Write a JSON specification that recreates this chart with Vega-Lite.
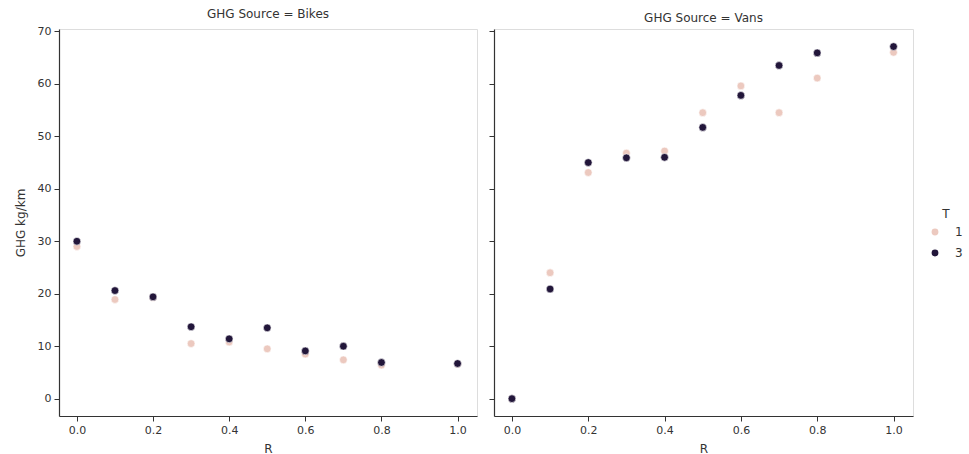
{
  "$schema": "https://vega.github.io/schema/vega-lite/v6.json",
  "padding": {"left": 13, "top": 7, "right": 5, "bottom": 5},
  "background": "white",
  "data": {"values": [
    {"source": "Bikes", "R": 0.0, "T": 1, "GHG": 29.0},
    {"source": "Bikes", "R": 0.1, "T": 1, "GHG": 18.9},
    {"source": "Bikes", "R": 0.2, "T": 1, "GHG": 19.3},
    {"source": "Bikes", "R": 0.3, "T": 1, "GHG": 10.5},
    {"source": "Bikes", "R": 0.4, "T": 1, "GHG": 10.8},
    {"source": "Bikes", "R": 0.5, "T": 1, "GHG": 9.5},
    {"source": "Bikes", "R": 0.6, "T": 1, "GHG": 8.5},
    {"source": "Bikes", "R": 0.7, "T": 1, "GHG": 7.4},
    {"source": "Bikes", "R": 0.8, "T": 1, "GHG": 6.4},
    {"source": "Bikes", "R": 1.0, "T": 1, "GHG": 6.6},
    {"source": "Bikes", "R": 0.0, "T": 3, "GHG": 30.0},
    {"source": "Bikes", "R": 0.1, "T": 3, "GHG": 20.6},
    {"source": "Bikes", "R": 0.2, "T": 3, "GHG": 19.4},
    {"source": "Bikes", "R": 0.3, "T": 3, "GHG": 13.7},
    {"source": "Bikes", "R": 0.4, "T": 3, "GHG": 11.4},
    {"source": "Bikes", "R": 0.5, "T": 3, "GHG": 13.5},
    {"source": "Bikes", "R": 0.6, "T": 3, "GHG": 9.1},
    {"source": "Bikes", "R": 0.7, "T": 3, "GHG": 10.0},
    {"source": "Bikes", "R": 0.8, "T": 3, "GHG": 6.9},
    {"source": "Bikes", "R": 1.0, "T": 3, "GHG": 6.7},
    {"source": "Vans", "R": 0.0, "T": 1, "GHG": 0.0},
    {"source": "Vans", "R": 0.1, "T": 1, "GHG": 24.0},
    {"source": "Vans", "R": 0.2, "T": 1, "GHG": 43.1},
    {"source": "Vans", "R": 0.3, "T": 1, "GHG": 46.8},
    {"source": "Vans", "R": 0.4, "T": 1, "GHG": 47.2},
    {"source": "Vans", "R": 0.5, "T": 1, "GHG": 54.5},
    {"source": "Vans", "R": 0.6, "T": 1, "GHG": 59.6},
    {"source": "Vans", "R": 0.7, "T": 1, "GHG": 54.5},
    {"source": "Vans", "R": 0.8, "T": 1, "GHG": 61.1},
    {"source": "Vans", "R": 1.0, "T": 1, "GHG": 66.0},
    {"source": "Vans", "R": 0.0, "T": 3, "GHG": 0.0},
    {"source": "Vans", "R": 0.1, "T": 3, "GHG": 20.9},
    {"source": "Vans", "R": 0.2, "T": 3, "GHG": 45.0},
    {"source": "Vans", "R": 0.3, "T": 3, "GHG": 45.9},
    {"source": "Vans", "R": 0.4, "T": 3, "GHG": 46.0},
    {"source": "Vans", "R": 0.5, "T": 3, "GHG": 51.7},
    {"source": "Vans", "R": 0.6, "T": 3, "GHG": 57.8},
    {"source": "Vans", "R": 0.7, "T": 3, "GHG": 63.5},
    {"source": "Vans", "R": 0.8, "T": 3, "GHG": 65.9},
    {"source": "Vans", "R": 1.0, "T": 3, "GHG": 67.1}
  ]},
  "spacing": 10,
  "hconcat": [
    {
      "width": 418,
      "height": 387,
      "title": {"text": "GHG Source = Bikes"},
      "transform": [{"filter": "datum.source === 'Bikes'"}],
      "mark": {"type": "point", "filled": true, "size": 60, "stroke": "white", "strokeWidth": 0.6, "opacity": 1},
      "encoding": {
        "x": {"field": "R", "type": "quantitative", "scale": {"domain": [-0.047, 1.051], "nice": false, "zero": false},
              "axis": {"values": [0, 0.2, 0.4, 0.6, 0.8, 1.0], "format": ".1f", "title": "R", "titlePadding": 8}},
        "y": {"field": "GHG", "type": "quantitative", "scale": {"domain": [-3.3, 70.45], "nice": false, "zero": false},
              "axis": {"values": [0, 10, 20, 30, 40, 50, 60, 70], "title": "GHG kg/km", "titlePadding": 10}},
        "color": {"field": "T", "type": "nominal", "scale": {"domain": [1, 3], "range": ["#ecc9bf", "#22163a"]},
                  "legend": {"title": "T", "orient": "none", "legendX": 870, "legendY": 180}}
      }
    },
    {
      "width": 419,
      "height": 387,
      "title": {"text": "GHG Source = Vans"},
      "transform": [{"filter": "datum.source === 'Vans'"}],
      "mark": {"type": "point", "filled": true, "size": 60, "stroke": "white", "strokeWidth": 0.6, "opacity": 1},
      "encoding": {
        "x": {"field": "R", "type": "quantitative", "scale": {"domain": [-0.047, 1.051], "nice": false, "zero": false},
              "axis": {"values": [0, 0.2, 0.4, 0.6, 0.8, 1.0], "format": ".1f", "title": "R", "titlePadding": 8}},
        "y": {"field": "GHG", "type": "quantitative", "scale": {"domain": [-3.3, 70.45], "nice": false, "zero": false},
              "axis": {"values": [0, 10, 20, 30, 40, 50, 60, 70], "labels": false, "title": null}},
        "color": {"field": "T", "type": "nominal", "scale": {"domain": [1, 3], "range": ["#ecc9bf", "#22163a"]}, "legend": null}
      }
    }
  ],
  "config": {
    "font": "DejaVu Sans",
    "view": {"stroke": "#dddddd", "strokeWidth": 1},
    "title": {"fontSize": 12, "fontWeight": "normal", "color": "#333333", "offset": 0, "anchor": "middle"},
    "axis": {
      "grid": false,
      "domainColor": "#333333",
      "domainWidth": 1.2,
      "tickColor": "#333333",
      "tickSize": 5,
      "labelFontSize": 11,
      "labelColor": "#333333",
      "titleFontSize": 12,
      "titleFontWeight": "normal",
      "titleColor": "#333333",
      "labelPadding": 3,
      "titlePadding": 5
    },
    "legend": {
      "titleFontSize": 12,
      "titleFontWeight": "normal",
      "titleColor": "#333333",
      "titleAnchor": "middle",
      "labelFontSize": 12,
      "labelColor": "#333333",
      "symbolSize": 70,
      "symbolStrokeColor": "white",
      "labelOffset": 14,
      "rowPadding": 5
    }
  }
}
